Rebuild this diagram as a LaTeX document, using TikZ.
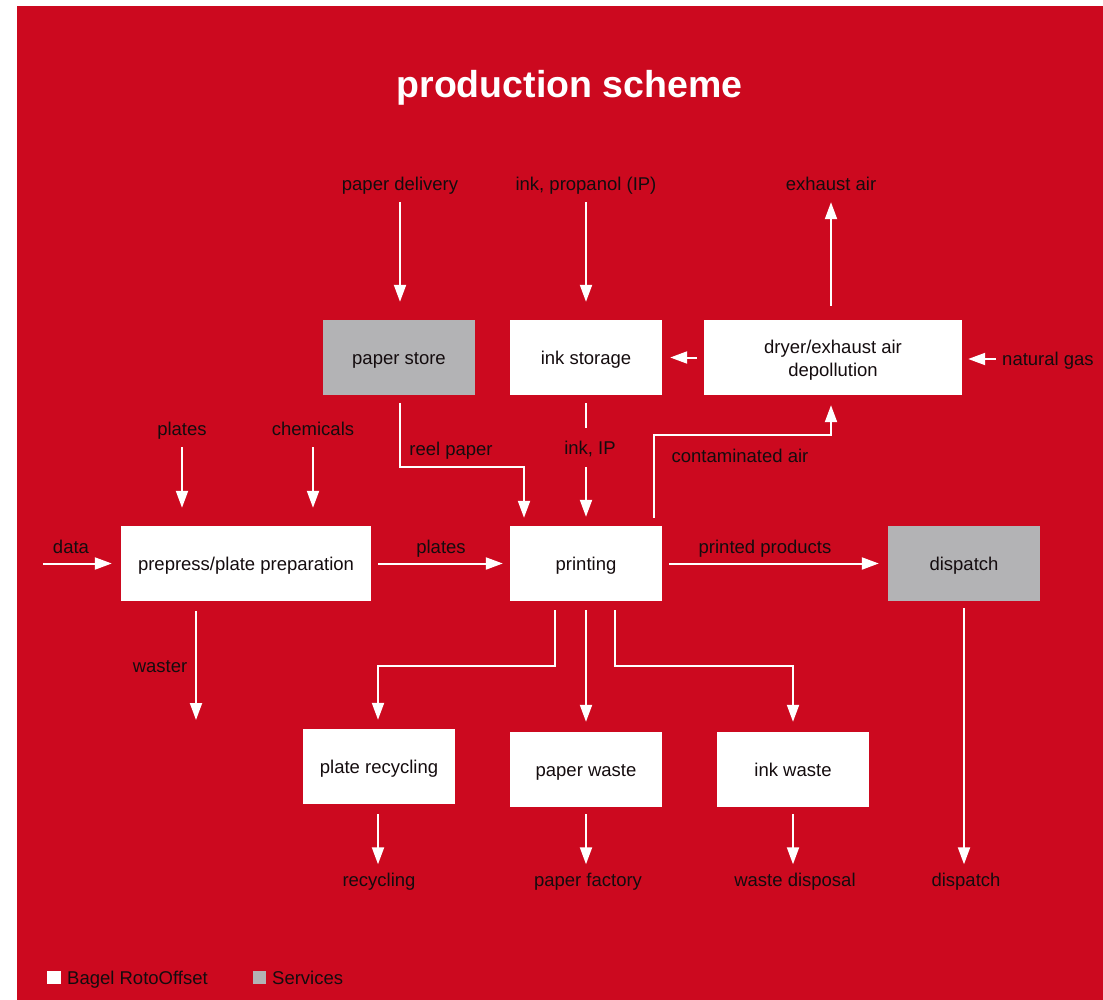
\documentclass[tikz,border=0pt]{standalone}
\usepackage{fontspec}
\setmainfont{Liberation Sans}
\usetikzlibrary{arrows.meta,calc}
\definecolor{bgred}{RGB}{204,9,31}
\definecolor{svgray}{RGB}{179,179,181}
\definecolor{txt}{RGB}{20,12,14}
\begin{document}
\begin{tikzpicture}[x=1pt,y=-1pt,
  every node/.style={font=\fontsize{18.5}{23}\selectfont,text=txt,inner sep=0pt},
  boxbase/.style={fill=white,minimum width=152pt,minimum height=75pt},
  box/.style={boxbase,text height=15.5pt,text depth=1.5pt},
  gbox/.style={box,fill=svgray},
  lbl/.style={text height=15pt,text depth=2pt},
  arr/.style={draw=white,line width=2pt,-{Triangle[length=17pt,width=12pt]}},
  ln/.style={draw=white,line width=2pt},
  legsq/.style={minimum size=13.5pt}
]
\useasboundingbox (0,0) rectangle (1103,1000);
\fill[white] (0,0) rectangle (1103,1000);
\fill[bgred] (17,6) rectangle (1103,1000);

% title
\node[font=\fontsize{37.5}{40}\selectfont\bfseries,text=white,anchor=base] (title) at (569.5,98) {production scheme};

% boxes
\node[gbox] (ps) at (399,357.5) {paper store};
\node[box] (is) at (586,357.5) {ink storage};
\node[boxbase,minimum width=258pt] (dr) at (833,357.5)
  {\raisebox{-3pt}[\height][\depth]{\begin{tabular}{@{}c@{}}dryer/exhaust air\\depollution\end{tabular}}};
\node[box,minimum width=250pt] (pp) at (246,563.5) {prepress/plate preparation};
\node[box] (pr) at (586,563.5) {printing};
\node[gbox] (di) at (964,563.5) {dispatch};
\node[box] (prc) at (379,766.5) {plate recycling};
\node[box] (pw) at (586,769.5) {paper waste};
\node[box] (iw) at (793,769.5) {ink waste};

% free labels
\node[lbl] (pdl) at (400,184) {paper delivery};
\node[lbl] (inkl) at (586,184) {ink, propanol (IP)};
\node[lbl] (exl) at (831,184) {exhaust air};
\node[lbl] (ngl) at (1048,359) {natural gas};
\node[lbl] (pll) at (182,429) {plates};
\node[lbl] (chl) at (313,429) {chemicals};
\node[lbl] (datal) at (71,547) {data};
\node[lbl] (pl2) at (441,547) {plates};
\node[lbl] (ppl) at (765,547) {printed products};
\node[lbl] (rpl) at (451,449) {reel paper};
\node[lbl] (ipl) at (590,448) {ink, IP};
\node[lbl] (cal) at (740,456) {contaminated air};
\node[lbl] (wal) at (160,666) {waster};
\node[lbl] (recl) at (379,880) {recycling};
\node[lbl] (pfl) at (588,880) {paper factory};
\node[lbl] (wdl) at (795,880) {waste disposal};
\node[lbl] (dil) at (966,880) {dispatch};
\coordinate (ds) at (43,563.5);
\coordinate (we) at (196,720);

% connectors
\draw[arr] ($(pdl.south)+(0,9.5)$) -- ($(ps.north -| pdl.south)+(0,-18)$);
\draw[arr] ($(inkl.south)+(0,9.5)$) -- ($(is.north)+(0,-18)$);
\draw[arr] ($(dr.north -| exl)+(0,-14)$) -- ($(exl.south)+(0,9.5)$);
\draw[arr] ($(ngl.west)+(-6,0)$) -- ($(dr.east |- ngl.west)+(6,0)$);
\draw[arr] ($(dr.west)+(-7,0)$) -- ($(is.east)+(8,0)$);
\draw[arr] ($(pll.south)+(0,9.5)$) -- ($(pp.north -| pll.south)+(0,-18)$);
\draw[arr] ($(chl.south)+(0,9.5)$) -- ($(pp.north -| chl.south)+(0,-18)$);
\draw[arr] (ds) -- ($(pp.west)+(-9,0)$);
\draw[arr] ($(pp.east)+(7,0)$) -- ($(pr.west)+(-7,0)$);
\draw[arr] ($(pr.east)+(7,0)$) -- ($(di.west)+(-9,0)$);
\draw[arr] ($(ps.south)+(1,8)$) |- ($(pr.north)+(-62,-59)$) -- ($(pr.north)+(-62,-8)$);
\draw[ln] ($(is.south)+(0,8)$) -- ($(is.south)+(0,33)$);
\draw[arr] ($(pr.north)+(0,-59)$) -- ($(pr.north)+(0,-9)$);
\draw[arr] ($(pr.north)+(68,-8)$) |- ($(dr.south)+(-2,40)$) -- ($(dr.south)+(-2,10)$);
\draw[arr] ($(pp.south)+(-50,10)$) -- (we);
\draw[arr] ($(pr.south)+(-31,9)$) |- ($(prc.north)+(-1,-63)$) -- ($(prc.north)+(-1,-9)$);
\draw[arr] ($(pr.south)+(0,9)$) -- ($(pw.north)+(0,-10)$);
\draw[arr] ($(pr.south)+(29,9)$) |- ($(iw.north)+(0,-66)$) -- ($(iw.north)+(0,-10)$);
\draw[arr] ($(prc.south)+(-1,10)$) -- ($(recl.north)+(-1,-7)$);
\draw[arr] ($(pw.south)+(0,7)$) -- ($(pfl.north -| pw.south)+(0,-7)$);
\draw[arr] ($(iw.south)+(0,7)$) -- ($(wdl.north -| iw.south)+(0,-7)$);
\draw[arr] ($(di.south)+(0,7)$) -- ($(dil.north -| di.south)+(0,-7)$);

% legend
\node[legsq,fill=white] (lw) at (54,977.5) {};
\node[lbl,anchor=west] (lwt) at (67,978) {Bagel RotoOffset};
\node[legsq,fill=svgray] (lg) at (259.5,977.5) {};
\node[lbl,anchor=west] (lgt) at (272,978) {Services};
\end{tikzpicture}
\end{document}
